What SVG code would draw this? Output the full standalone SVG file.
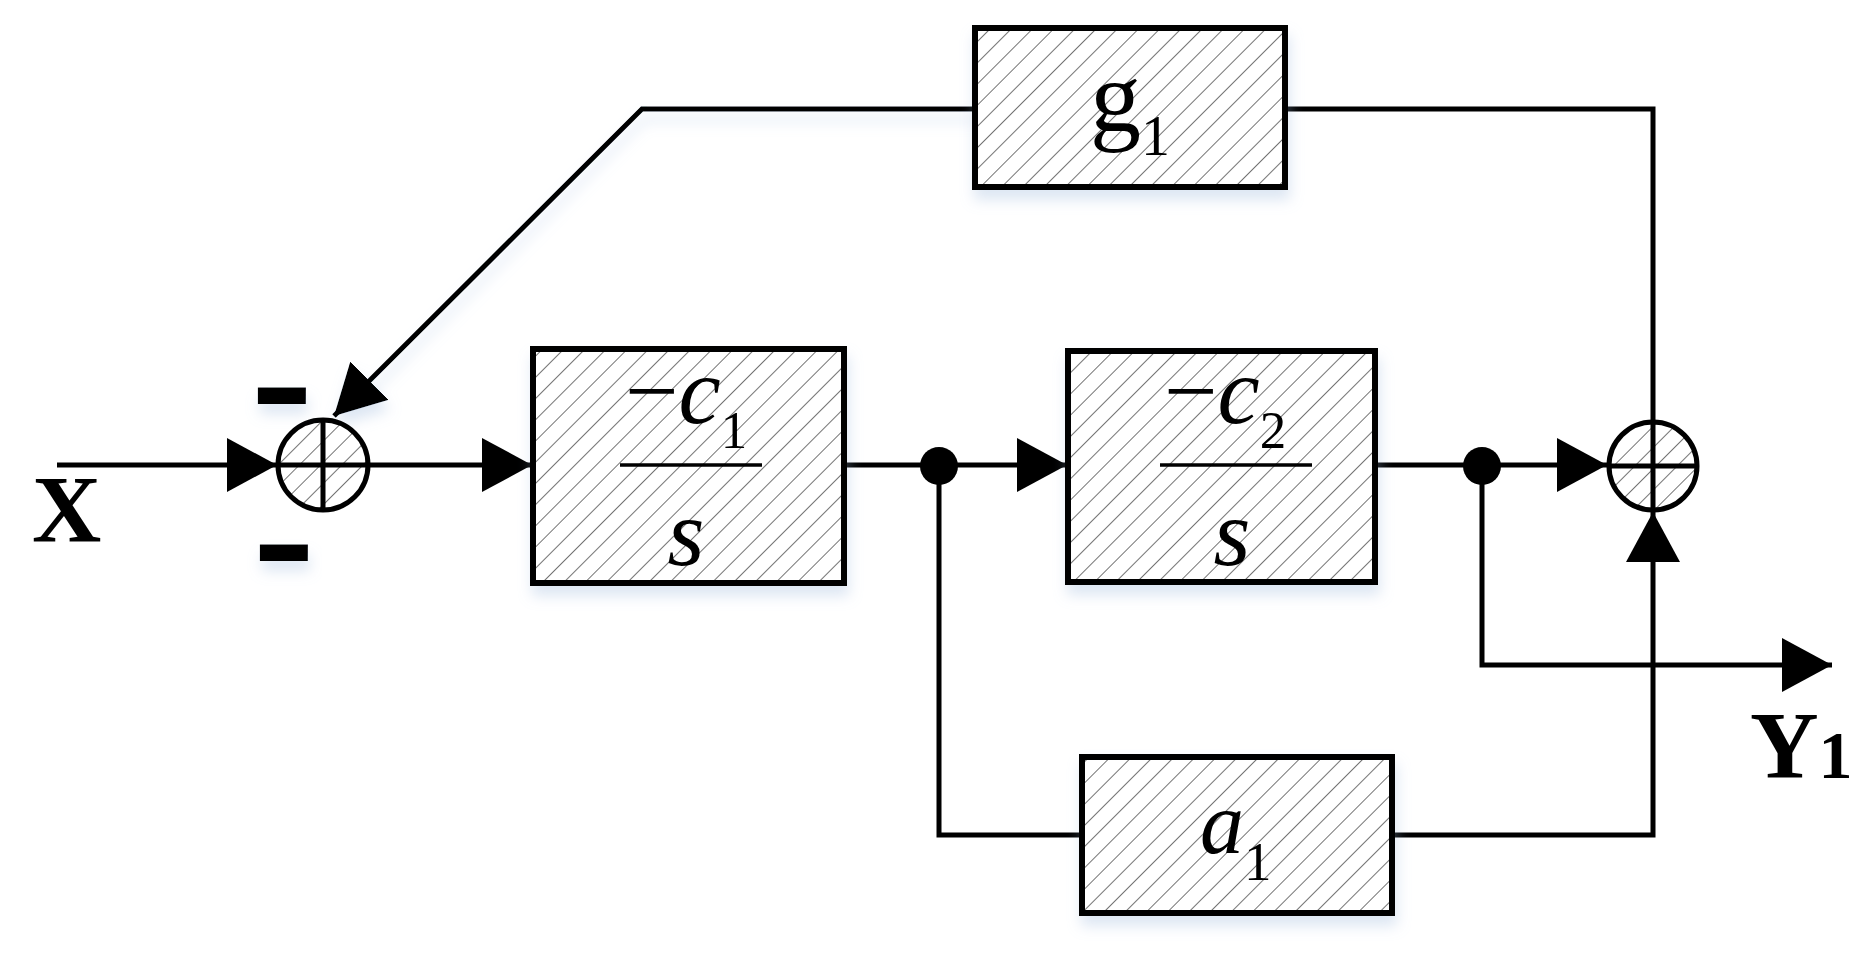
<svg xmlns="http://www.w3.org/2000/svg" width="1870" height="959" viewBox="0 0 1870 959">
  <style>
    .line { fill: none; stroke: #000; stroke-width: 5; stroke-linejoin: miter; }
    .box { fill: url(#hatch); stroke: #000; stroke-width: 6; }
    .sum { fill: url(#hatch); stroke: #000; stroke-width: 5; }
    .cross { stroke: #000; stroke-width: 5; }
    .frac { stroke: #000; stroke-width: 3.5; }
    .math { font-family: "Liberation Serif", "Times New Roman", serif; fill: #000; }
    .lbl { font-family: "Liberation Serif", "Times New Roman", serif; font-weight: bold; fill: #000; }
    .sign { font-family: "Liberation Sans", Arial, sans-serif; font-weight: bold; font-size: 140px; fill: #000; }
  </style>
  <defs>
    <pattern id="hatch" patternUnits="userSpaceOnUse" width="15" height="15" patternTransform="rotate(45)">
      <rect width="15" height="15" fill="#fff"/>
      <line x1="0" y1="0" x2="0" y2="15" stroke="#747474" stroke-width="2"/>
    </pattern>
    <marker id="arrow" markerUnits="userSpaceOnUse" markerWidth="52" markerHeight="54" refX="50" refY="27" orient="auto">
      <path d="M0,0 L50,27 L0,54 z" fill="#000"/>
    </marker>
    <filter id="shadow" x="-10%" y="-10%" width="120%" height="140%">
      <feDropShadow dx="2" dy="10" stdDeviation="7" flood-color="#9db8dc" flood-opacity="0.35"/>
    </filter>
  </defs>
  <rect width="1870" height="959" fill="#fff"/>

  <g id="connectors">
    <path class="line" d="M57,465 H277" marker-end="url(#arrow)"/>
    <path class="line" d="M368,465 H532" marker-end="url(#arrow)"/>
    <path class="line" d="M845,465 H1067" marker-end="url(#arrow)"/>
    <path class="line" d="M1375,465 H1607" marker-end="url(#arrow)"/>
    <path class="line" d="M1482,465 V665 H1832" marker-end="url(#arrow)"/>
    <path class="line" d="M939,465 V835 H1082"/>
    <path class="line" d="M1392,835 H1653 V512" marker-end="url(#arrow)"/>
    <path class="line" d="M1653,422 V109 H1285"/>
    <path class="line" d="M975,109 H642 L334,416" marker-end="url(#arrow)" filter="url(#shadow)"/>
    <circle cx="939" cy="466" r="19" fill="#000"/>
    <circle cx="1482" cy="466" r="19" fill="#000"/>
  </g>

  <g id="sum1">
    <circle class="sum" cx="323" cy="465" r="45"/>
    <line class="cross" x1="278" y1="465" x2="368" y2="465"/>
    <line class="cross" x1="323" y1="420" x2="323" y2="510"/>
  </g>

  <g id="signs" filter="url(#shadow)">
    <text class="sign" text-anchor="middle" transform="translate(282,432) scale(1.35,1)">-</text>
    <text class="sign" text-anchor="middle" transform="translate(284,589) scale(1.35,1)">-</text>
  </g>

  <g id="sum2">
    <circle class="sum" cx="1653" cy="466" r="44"/>
    <line class="cross" x1="1609" y1="466" x2="1697" y2="466"/>
    <line class="cross" x1="1653" y1="422" x2="1653" y2="510"/>
  </g>

  <g id="box1" filter="url(#shadow)">
    <rect class="box" x="533" y="349" width="311" height="234"/>
    <line class="frac" x1="620" y1="465" x2="762" y2="465"/>
    <text class="math" x="625" y="423" font-size="95">−<tspan font-style="italic">c</tspan><tspan font-size="53" dy="25">1</tspan></text>
    <text class="math" x="686" y="565" font-size="95" font-style="italic" text-anchor="middle">s</text>
  </g>

  <g id="box2" filter="url(#shadow)">
    <rect class="box" x="1068" y="351" width="307" height="231"/>
    <line class="frac" x1="1160" y1="465" x2="1312" y2="465"/>
    <text class="math" x="1164" y="423" font-size="95">−<tspan font-style="italic">c</tspan><tspan font-size="53" dy="25">2</tspan></text>
    <text class="math" x="1232" y="565" font-size="95" font-style="italic" text-anchor="middle">s</text>
  </g>

  <g id="g1" filter="url(#shadow)">
    <rect class="box" x="975" y="28" width="310" height="159"/>
    <text class="math" x="1090" y="131" font-size="102">g<tspan font-size="58" dy="24">1</tspan></text>
  </g>

  <g id="a1" filter="url(#shadow)">
    <rect class="box" x="1082" y="757" width="310" height="156"/>
    <text class="math" x="1200" y="853" font-size="88"><tspan font-style="italic">a</tspan><tspan font-size="55" dy="27">1</tspan></text>
  </g>

  <g id="labels">
    <text class="lbl" x="32" y="542" font-size="96">X</text>
    <text class="lbl" x="1750" y="778" font-size="95">Y<tspan font-size="68">1</tspan></text>
  </g>
</svg>
